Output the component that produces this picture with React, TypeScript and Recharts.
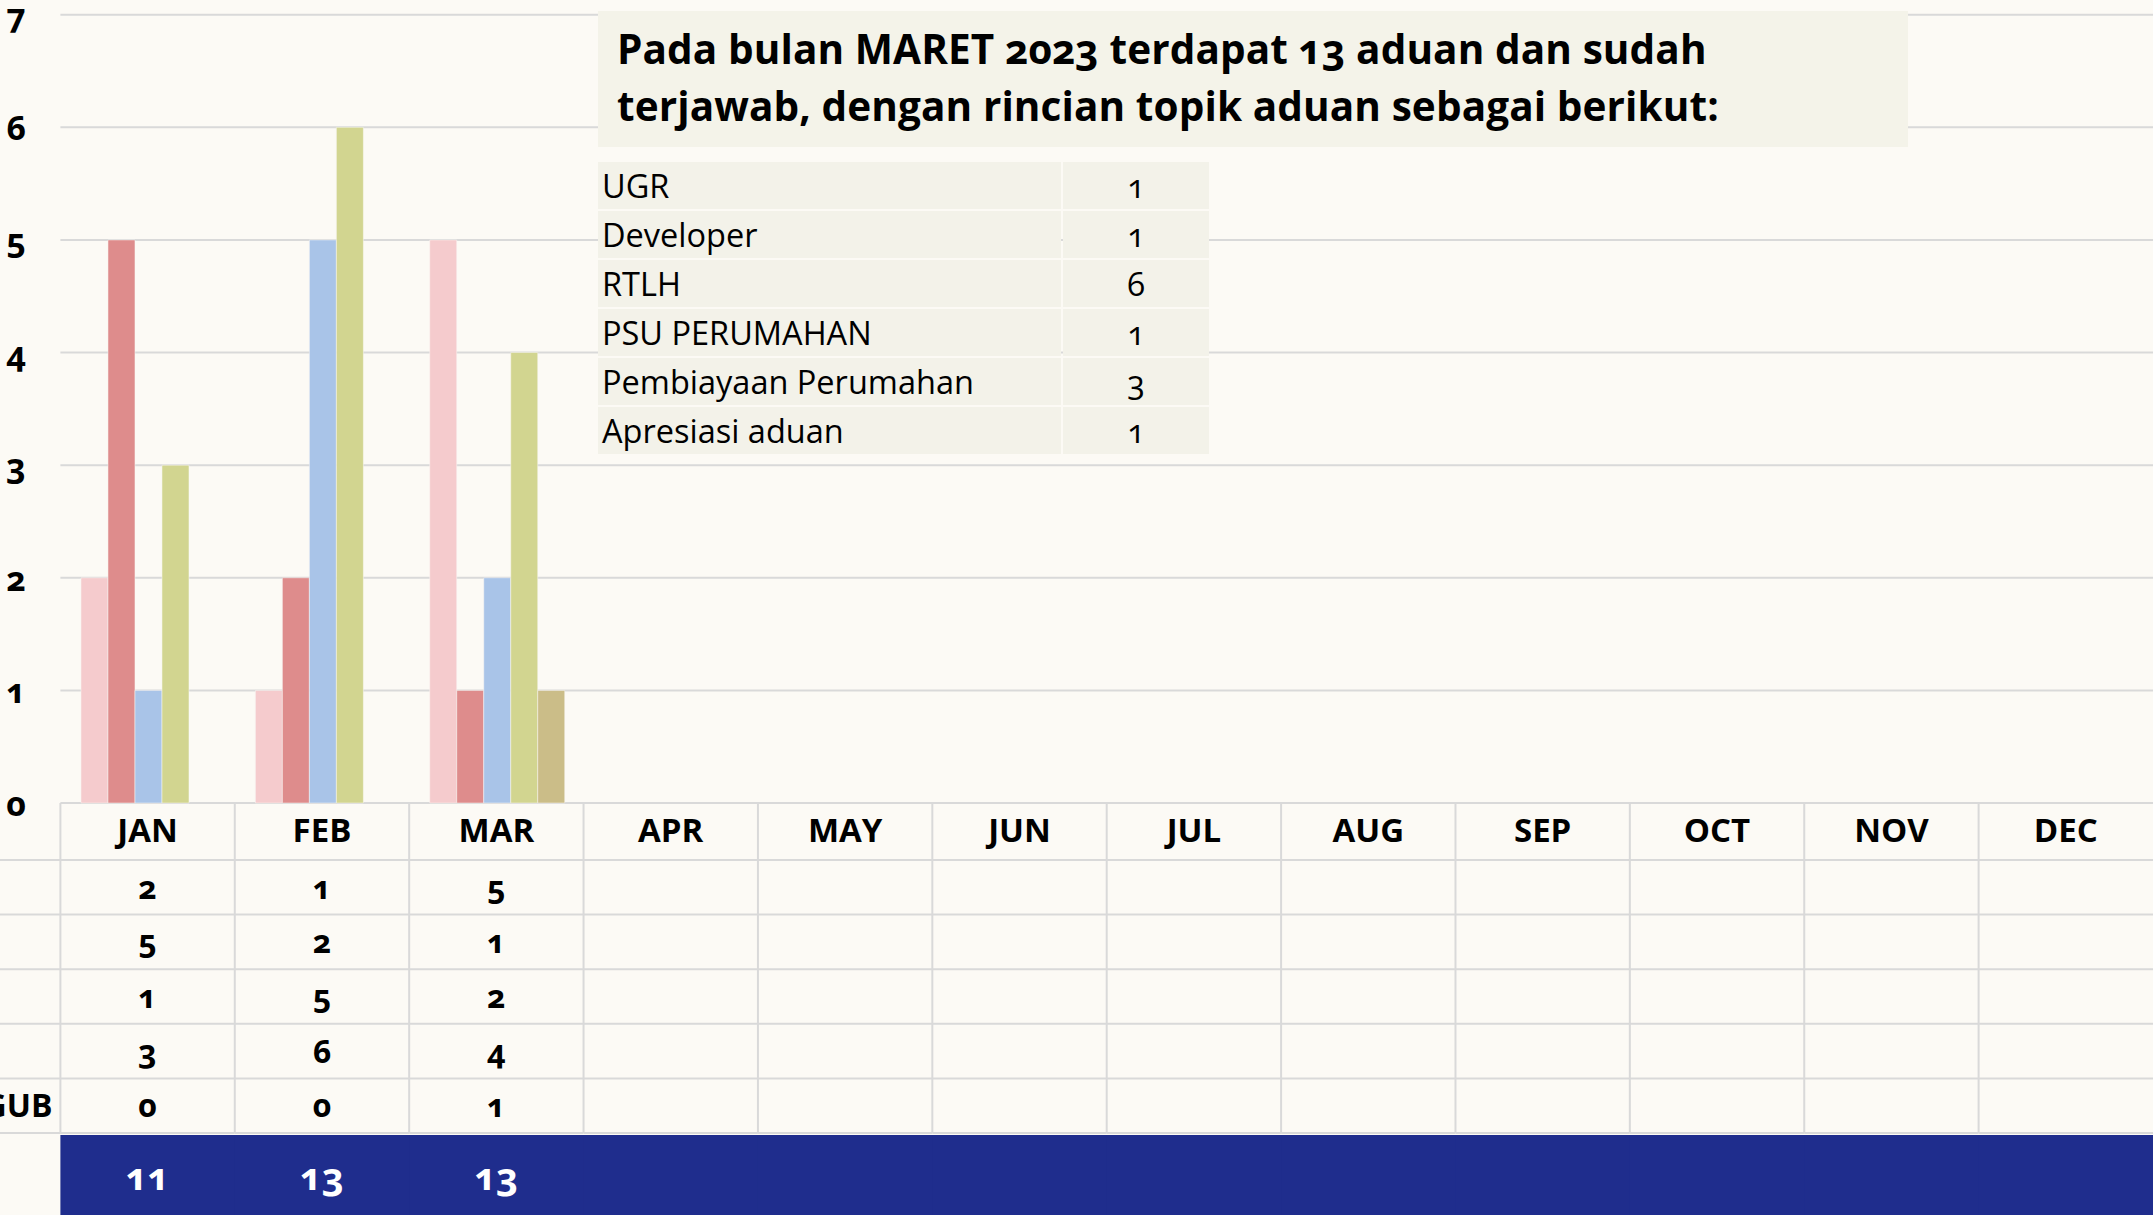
import React from "react"
import { Bar, BarChart, CartesianGrid, XAxis, YAxis } from "recharts"

// monthly complaint counts, one array per series (rows of the data table)
const months = ["JAN", "FEB", "MAR", "APR", "MAY", "JUN", "JUL", "AUG", "SEP", "OCT", "NOV", "DEC"]
const series1 = [2, 1, 5, null, null, null, null, null, null, null, null, null]
const series2 = [5, 2, 1, null, null, null, null, null, null, null, null, null]
const series3 = [1, 5, 2, null, null, null, null, null, null, null, null, null]
const series4 = [3, 6, 4, null, null, null, null, null, null, null, null, null]
const series5 = [0, 0, 1, null, null, null, null, null, null, null, null, null]
const totals = [11, 13, 13, null, null, null, null, null, null, null, null, null]
const rowLabels = ["", "", "", "", "GUB"]
const yTicks = [0, 1, 2, 3, 4, 5, 6, 7]

// topic breakdown for March
const headline = ["Pada bulan MARET 2023 terdapat 13 aduan dan sudah", "terjawab, dengan rincian topik aduan sebagai berikut:"]
const topics = ["UGR", "Developer", "RTLH", "PSU PERUMAHAN", "Pembiayaan Perumahan", "Apresiasi aduan"]
const topicCounts = [1, 1, 6, 1, 3, 1]

const seriesKeys = ["s1", "s2", "s3", "s4", "s5"]
const seriesColors = ["#F5CBCD", "#DE8C8C", "#A9C4E8", "#D2D590", "#CBBD88"]
const allSeries = [series1, series2, series3, series4, series5]

const data = months.map((m, i) => ({
  month: m,
  s1: series1[i],
  s2: series2[i],
  s3: series3[i],
  s4: series4[i],
  s5: series5[i],
}))

const W = 2153
const H = 1215
const LEFT = 60.4
const TOP = 14.7
const AXIS_H = 412
const COL_W = (W - LEFT) / months.length
const HEAD_H = 57
const ROW_H = 54.6
const LINE = "#D9D9D9"
const FONT = "'Open Sans', sans-serif"

const YTick = (props: any) => {
  const { y, payload } = props
  return (
    <text x={16} y={y} textAnchor="middle" dominantBaseline="central" fontFamily={FONT} fontWeight={700} fontSize={34} fill="#000">
      {payload.value}
    </text>
  )
}

const TableTick = (props: any) => {
  const { x, y, payload } = props
  const i = payload.index
  const left = x - COL_W / 2
  const bottom = y + HEAD_H + ROW_H * allSeries.length
  return (
    <g>
      {/* row separators, first column also draws the stub on the left */}
      {allSeries.map((_, r) => (
        <line
          key={r}
          x1={i === 0 ? 0 : left}
          x2={left + COL_W}
          y1={y + HEAD_H + ROW_H * r}
          y2={y + HEAD_H + ROW_H * r}
          stroke={LINE}
          strokeWidth={2}
        />
      ))}
      <line x1={i === 0 ? 0 : left} x2={left + COL_W} y1={bottom} y2={bottom} stroke={LINE} strokeWidth={2} />
      <line x1={left} x2={left} y1={y} y2={bottom} stroke={LINE} strokeWidth={2} />
      <text x={x} y={y + HEAD_H / 2 - 2} textAnchor="middle" dominantBaseline="central" fontFamily={FONT} fontWeight={700} fontSize={33} fill="#000">
        {payload.value}
      </text>
      {allSeries.map((s, r) => (
        <text
          key={r}
          x={x}
          y={y + HEAD_H + ROW_H * r + ROW_H / 2 - 1}
          textAnchor="middle"
          dominantBaseline="central"
          fontFamily={FONT}
          fontWeight={700}
          fontSize={32}
          fill="#000"
        >
          {s[i] ?? ""}
        </text>
      ))}
      {i === 0 &&
        rowLabels.map((l, r) => (
          <text
            key={r}
            x={left - 8}
            y={y + HEAD_H + ROW_H * r + ROW_H / 2 - 1}
            textAnchor="end"
            dominantBaseline="central"
            fontFamily={FONT}
            fontWeight={700}
            fontSize={32}
            fill="#000"
          >
            {l}
          </text>
        ))}
      <rect x={left} y={bottom + 2} width={COL_W + 1} height={H - bottom} fill="#1F2D8D" />
      <text x={x} y={bottom + 42} textAnchor="middle" dominantBaseline="central" fontFamily={FONT} fontWeight={700} fontSize={38} fill="#fff">
        {totals[i] ?? ""}
      </text>
    </g>
  )
}

export default function App() {
  return (
    <div
      style={{
        position: "absolute",
        left: 0,
        top: 0,
        width: W,
        height: H,
        overflow: "hidden",
        background: "#FCFAF5",
        fontFamily: FONT,
        fontVariantNumeric: "oldstyle-nums",
      }}
    >
      <BarChart
        width={W}
        height={H}
        data={data}
        margin={{ top: TOP, right: 0, bottom: 0, left: 0 }}
        barCategoryGap="11.8%"
        barGap={0}
      >
        <CartesianGrid vertical={false} stroke={LINE} strokeWidth={2} />
        <YAxis width={LEFT} domain={[0, 7]} ticks={yTicks} interval={0} axisLine={false} tickLine={false} tick={<YTick />} />
        <XAxis
          dataKey="month"
          height={AXIS_H}
          interval={0}
          axisLine={false}
          tickLine={false}
          tickSize={0}
          tickMargin={0}
          tick={<TableTick />}
        />
        {seriesKeys.map((k, idx) => (
          <Bar key={k} dataKey={k} fill={seriesColors[idx]} stroke="#FCFAF5" strokeOpacity={0.5} strokeWidth={1} isAnimationActive={false} />
        ))}
      </BarChart>

      <div
        style={{
          position: "absolute",
          left: 598,
          top: 11,
          width: 1310,
          height: 136,
          background: "#F4F3E9",
          boxSizing: "border-box",
          padding: "9px 0 0 19px",
          fontWeight: 700,
          fontSize: 40.5,
          lineHeight: "57px",
          color: "#000",
          whiteSpace: "nowrap",
          letterSpacing: 0.1,
        }}
      >
        {headline.map((l, i) => (
          <div key={i}>{l}</div>
        ))}
      </div>

      <div style={{ position: "absolute", left: 598, top: 162 }}>
        {topics.map((t, i) => (
          <div key={t} style={{ display: "flex", height: 47, marginBottom: 2, fontSize: 32.5, lineHeight: "48px", color: "#000" }}>
            <div style={{ width: 463, background: "#F3F2E9", paddingLeft: 4, boxSizing: "border-box", whiteSpace: "nowrap" }}>{t}</div>
            <div style={{ width: 146, marginLeft: 2, background: "#F3F2E9", textAlign: "center" }}>{topicCounts[i]}</div>
          </div>
        ))}
      </div>
    </div>
  )
}
